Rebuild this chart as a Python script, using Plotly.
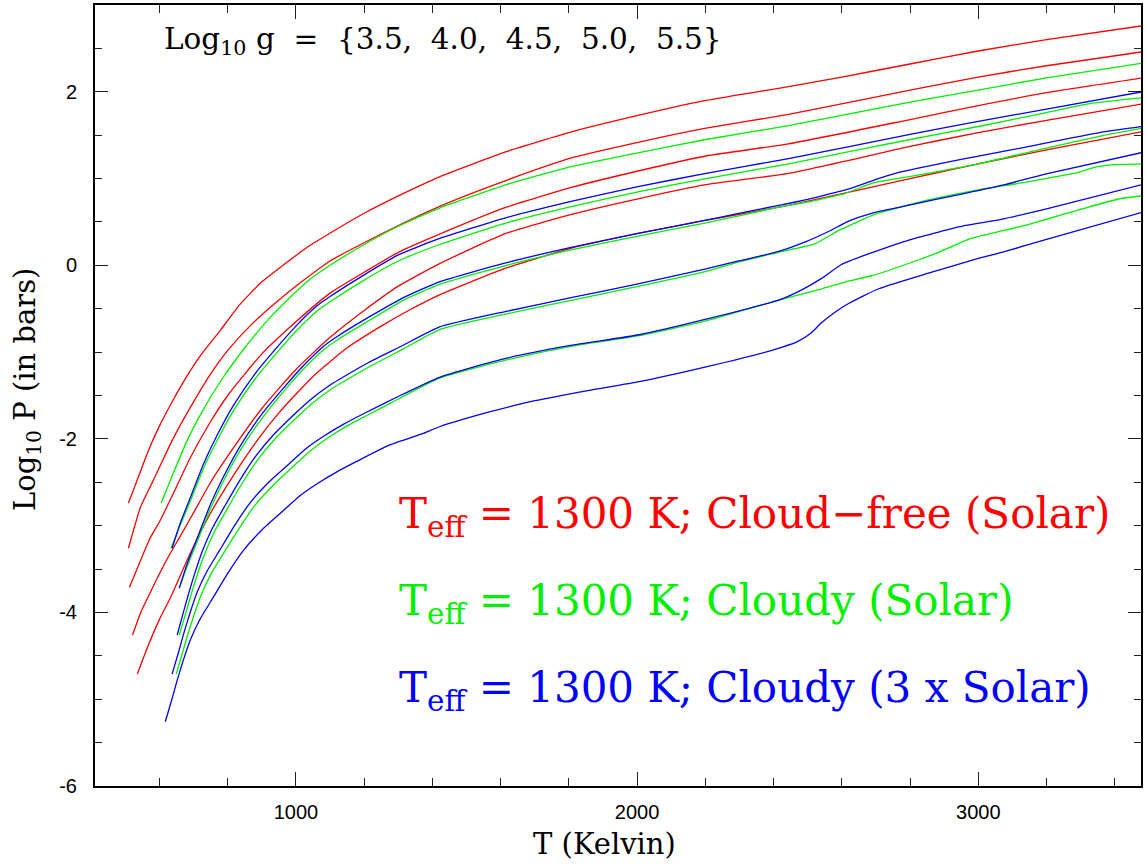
import plotly.graph_objects as go

# ---------------- data ----------------
# Cloud-free, solar (red); log g = 5.5, 5.0, 4.5, 4.0, 3.5
T_R55 = [509, 540, 567, 600, 636, 680, 720, 780, 836, 900, 962, 1030, 1108, 1200, 1300, 1421, 1617, 1810, 2006, 2202, 2444, 2600, 2800, 3000, 3200, 3480]
P_R55 = [-2.74, -2.42, -2.14, -1.85, -1.58, -1.28, -1.04, -0.74, -0.45, -0.19, 0.0, 0.20, 0.39, 0.60, 0.80, 1.02, 1.31, 1.54, 1.73, 1.90, 2.06, 2.17, 2.32, 2.47, 2.60, 2.76]
T_R50 = [509, 544, 573, 602, 637, 690, 750, 800, 870, 950, 1030, 1100, 1180, 1275, 1421, 1617, 1810, 2006, 2202, 2444, 2800, 3000, 3200, 3480]
P_R50 = [-3.26, -2.79, -2.55, -2.31, -2.02, -1.64, -1.25, -0.98, -0.68, -0.40, -0.15, 0.05, 0.22, 0.41, 0.68, 0.98, 1.24, 1.42, 1.58, 1.74, 2.02, 2.17, 2.30, 2.46]
T_R45 = [512, 553, 573, 602, 650, 690, 750, 800, 900, 1000, 1100, 1200, 1300, 1421, 1617, 1810, 2006, 2202, 2444, 2800, 3000, 3200, 3480]
P_R45 = [-3.71, -3.32, -3.14, -2.94, -2.55, -2.22, -1.80, -1.50, -1.02, -0.65, -0.32, -0.08, 0.15, 0.36, 0.67, 0.90, 1.09, 1.26, 1.40, 1.68, 1.84, 1.99, 2.16]
T_R40 = [521, 545, 573, 594, 630, 661, 700, 750, 800, 900, 1000, 1100, 1200, 1300, 1421, 1617, 1810, 2006, 2202, 2444, 2800, 3000, 3200, 3480]
P_R40 = [-4.26, -4.00, -3.77, -3.60, -3.33, -3.12, -2.85, -2.50, -2.20, -1.65, -1.20, -0.83, -0.52, -0.24, 0.02, 0.37, 0.59, 0.77, 0.93, 1.06, 1.37, 1.53, 1.67, 1.86]
T_R35 = [535, 565, 600, 632, 690, 749, 807, 886, 950, 1050, 1150, 1250, 1330, 1421, 1617, 1810, 2006, 2202, 2444, 2800, 3000, 3200, 3480]
P_R35 = [-4.71, -4.40, -4.08, -3.83, -3.32, -2.86, -2.48, -2.02, -1.70, -1.28, -0.95, -0.70, -0.52, -0.34, -0.03, 0.20, 0.37, 0.52, 0.69, 1.00, 1.17, 1.33, 1.54]

# Cloudy, solar (green)
T_G55 = [605, 640, 681, 720, 780, 850, 920, 980, 1035, 1100, 1200, 1300, 1421, 1617, 1810, 2006, 2202, 2444, 2800, 3000, 3200, 3480]
P_G55 = [-2.74, -2.40, -2.02, -1.72, -1.33, -0.95, -0.62, -0.38, -0.18, 0.0, 0.24, 0.45, 0.66, 0.93, 1.14, 1.30, 1.45, 1.61, 1.88, 2.02, 2.16, 2.33]
T_G50 = [634, 660, 690, 730, 770, 816, 880, 950, 1000, 1061, 1100, 1200, 1300, 1421, 1617, 1810, 2006, 2202, 2444, 2800, 3000, 3200, 3322, 3480]
P_G50 = [-3.26, -3.00, -2.72, -2.33, -2.01, -1.68, -1.31, -0.98, -0.76, -0.53, -0.42, -0.17, 0.05, 0.24, 0.49, 0.68, 0.85, 1.00, 1.17, 1.45, 1.60, 1.76, 1.86, 1.93]
T_G45 = [658, 681, 711, 751, 791, 837, 901, 971, 1021, 1082, 1121, 1221, 1321, 1421, 1617, 1810, 2006, 2202, 2298, 2415, 2500, 2546, 2611, 2692, 2780, 3000, 3200, 3371, 3480]
P_G45 = [-3.72, -3.47, -3.18, -2.79, -2.46, -2.13, -1.76, -1.42, -1.20, -0.97, -0.86, -0.62, -0.39, -0.22, 0.0, 0.18, 0.34, 0.49, 0.57, 0.67, 0.73, 0.77, 0.83, 0.95, 1.01, 1.17, 1.35, 1.50, 1.58]
T_G40 = [658, 676, 693, 711, 731, 761, 798, 841, 886, 941, 1003, 1051, 1102, 1161, 1219, 1316, 1421, 1617, 1810, 2006, 2202, 2298, 2415, 2522, 2590, 2629, 2698, 2850, 3000, 3127, 3292, 3341, 3400, 3480]
P_G40 = [-4.26, -4.02, -3.79, -3.56, -3.34, -3.07, -2.81, -2.52, -2.25, -1.99, -1.75, -1.58, -1.43, -1.29, -1.16, -0.96, -0.74, -0.56, -0.40, -0.24, -0.07, 0.04, 0.15, 0.25, 0.40, 0.47, 0.59, 0.75, 0.87, 0.95, 1.07, 1.13, 1.16, 1.17]
T_G35 = [649, 667, 684, 702, 722, 752, 789, 832, 877, 932, 994, 1042, 1093, 1150, 1208, 1300, 1421, 1617, 1810, 2006, 2202, 2415, 2541, 2611, 2687, 2816, 2883, 2979, 3146, 3313, 3418, 3480]
P_G35 = [-4.71, -4.47, -4.24, -4.02, -3.80, -3.55, -3.31, -3.04, -2.78, -2.54, -2.31, -2.14, -1.99, -1.85, -1.73, -1.54, -1.30, -1.09, -0.93, -0.81, -0.64, -0.40, -0.27, -0.19, -0.12, 0.05, 0.15, 0.31, 0.47, 0.66, 0.77, 0.80]

# Cloudy, 3 x solar (blue)
T_B55 = [637, 660, 690, 730, 770, 816, 880, 950, 1000, 1061, 1100, 1200, 1300, 1421, 1617, 1810, 2006, 2202, 2444, 2800, 3000, 3200, 3480]
P_B55 = [-3.26, -2.98, -2.68, -2.28, -1.95, -1.62, -1.25, -0.92, -0.70, -0.47, -0.36, -0.11, 0.12, 0.31, 0.55, 0.74, 0.91, 1.06, 1.23, 1.51, 1.66, 1.80, 2.00]
T_B50 = [658, 681, 711, 751, 791, 837, 901, 971, 1021, 1082, 1121, 1221, 1321, 1421, 1617, 1810, 2006, 2202, 2298, 2415, 2500, 2561, 2629, 2700, 2757, 2950, 3096, 3371, 3480]
P_B50 = [-3.72, -3.44, -3.14, -2.74, -2.41, -2.08, -1.71, -1.38, -1.16, -0.93, -0.82, -0.58, -0.36, -0.19, 0.03, 0.21, 0.37, 0.52, 0.60, 0.69, 0.76, 0.82, 0.89, 0.99, 1.06, 1.22, 1.33, 1.54, 1.60]
T_B45 = [652, 670, 687, 705, 725, 755, 792, 835, 880, 935, 997, 1045, 1096, 1155, 1213, 1310, 1421, 1617, 1810, 2006, 2202, 2298, 2415, 2493, 2561, 2620, 2687, 2804, 2962, 3078, 3196, 3480]
P_B45 = [-4.26, -4.00, -3.76, -3.53, -3.30, -3.03, -2.77, -2.48, -2.21, -1.95, -1.71, -1.54, -1.39, -1.25, -1.12, -0.93, -0.71, -0.53, -0.37, -0.21, -0.04, 0.05, 0.16, 0.27, 0.39, 0.51, 0.60, 0.70, 0.83, 0.93, 1.05, 1.30]
T_B40 = [637, 655, 672, 690, 710, 740, 777, 820, 865, 920, 982, 1030, 1081, 1140, 1198, 1295, 1421, 1617, 1810, 2006, 2202, 2415, 2474, 2541, 2599, 2670, 2804, 2962, 3067, 3200, 3480]
P_B40 = [-4.71, -4.47, -4.23, -4.00, -3.77, -3.52, -3.28, -3.00, -2.74, -2.50, -2.28, -2.11, -1.97, -1.83, -1.71, -1.52, -1.29, -1.07, -0.92, -0.80, -0.62, -0.40, -0.30, -0.15, 0.01, 0.12, 0.30, 0.46, 0.53, 0.65, 0.93]
T_B35 = [617, 635, 652, 670, 690, 720, 757, 800, 845, 900, 962, 1010, 1061, 1120, 1178, 1275, 1371, 1421, 1567, 1700, 1860, 2006, 2202, 2395, 2470, 2510, 2541, 2580, 2620, 2708, 2854, 3000, 3079, 3200, 3480]
P_B35 = [-5.26, -5.02, -4.78, -4.55, -4.32, -4.07, -3.83, -3.55, -3.29, -3.05, -2.83, -2.66, -2.52, -2.38, -2.26, -2.07, -1.94, -1.86, -1.69, -1.56, -1.44, -1.34, -1.17, -0.98, -0.88, -0.78, -0.66, -0.54, -0.44, -0.27, -0.09, 0.08, 0.16, 0.30, 0.61]

X_TICKS = [1000, 2000, 3000]
X_TICK_TEXT = ["1000", "2000", "3000"]
Y_TICKS = [-6, -4, -2, 0, 2]
Y_TICK_TEXT = ["-6", "-4", "-2", "0", "2"]

TITLE_TEXT = "Log<sub>10</sub> g  =  {3.5,  4.0,  4.5,  5.0,  5.5}"
LEGEND_TEXTS = [
    "T<sub>eff</sub> = 1300 K; Cloud−free (Solar)",
    "T<sub>eff</sub> = 1300 K; Cloudy (Solar)",
    "T<sub>eff</sub> = 1300 K; Cloudy (3 x Solar)",
]
X_TITLE = "T (Kelvin)"
Y_TITLE = "Log<sub>10</sub> P (in bars)"

RED, GREEN, BLUE = "#ff0000", "#00f000", "#0000ff"

series = [
    (T_R55, P_R55, RED), (T_R50, P_R50, RED), (T_R45, P_R45, RED), (T_R40, P_R40, RED), (T_R35, P_R35, RED),
    (T_G55, P_G55, GREEN), (T_G50, P_G50, GREEN), (T_G45, P_G45, GREEN), (T_G40, P_G40, GREEN), (T_G35, P_G35, GREEN),
    (T_B55, P_B55, BLUE), (T_B50, P_B50, BLUE), (T_B45, P_B45, BLUE), (T_B40, P_B40, BLUE), (T_B35, P_B35, BLUE),
]

fig = go.Figure()
for t, p, c in series:
    fig.add_trace(go.Scatter(x=t, y=p, mode="lines",
                             line=dict(color=c, width=1.3, shape="spline", smoothing=0.5),
                             showlegend=False, hoverinfo="skip"))

SERIF = "DejaVu Serif"
SANS = "Liberation Sans, Arial, sans-serif"

axis_common = dict(showline=True, linecolor="black", linewidth=2, mirror="ticks",
                   ticks="inside", tickcolor="#222", tickwidth=1.2,
                   showgrid=False, zeroline=False,
                   tickfont=dict(family=SANS, size=20, color="black"))

fig.update_xaxes(range=[411, 3477], tickvals=X_TICKS, ticktext=X_TICK_TEXT, ticklen=14,
                 minor=dict(dtick=200, tick0=0, ticks="inside", ticklen=8, tickcolor="#222", tickwidth=1.2),
                 ticklabelstandoff=7, **axis_common)
fig.update_yaxes(range=[-6, 3], tickvals=Y_TICKS, ticktext=Y_TICK_TEXT, ticklen=13,
                 minor=dict(dtick=0.5, tick0=0, ticks="inside", ticklen=7, tickcolor="#222", tickwidth=1.2),
                 ticklabelstandoff=12, **axis_common)

annotations = [
    dict(text=TITLE_TEXT, x=(162 - 95) / 1047, y=(786 - 39) / 783, xref="paper", yref="paper",
         xanchor="left", yanchor="middle", showarrow=False,
         font=dict(family=SERIF, size=29.5, color="black")),
    dict(text=X_TITLE, x=(605 - 95) / 1047, y=(786 - 844) / 783, xref="paper", yref="paper",
         xanchor="center", yanchor="middle", showarrow=False,
         font=dict(family=SERIF, size=29, color="black")),
    dict(text=Y_TITLE, x=(27 - 95) / 1047, y=(786 - 389) / 783, xref="paper", yref="paper",
         xanchor="center", yanchor="middle", showarrow=False, textangle=-90,
         font=dict(family=SERIF, size=29, color="black")),
]
for txt, col, cy in zip(LEGEND_TEXTS, [RED, GREEN, BLUE], [516, 603, 690]):
    annotations.append(dict(text=txt, x=(397 - 95) / 1047, y=(786 - cy) / 783, xref="paper", yref="paper",
                            xanchor="left", yanchor="middle", showarrow=False,
                            font=dict(family=SERIF, size=42, color=col)))

fig.update_layout(width=1146, height=865, margin=dict(l=95, r=4, t=3, b=79),
                  paper_bgcolor="white", plot_bgcolor="white",
                  annotations=annotations)

fig.write_html("out.html")
